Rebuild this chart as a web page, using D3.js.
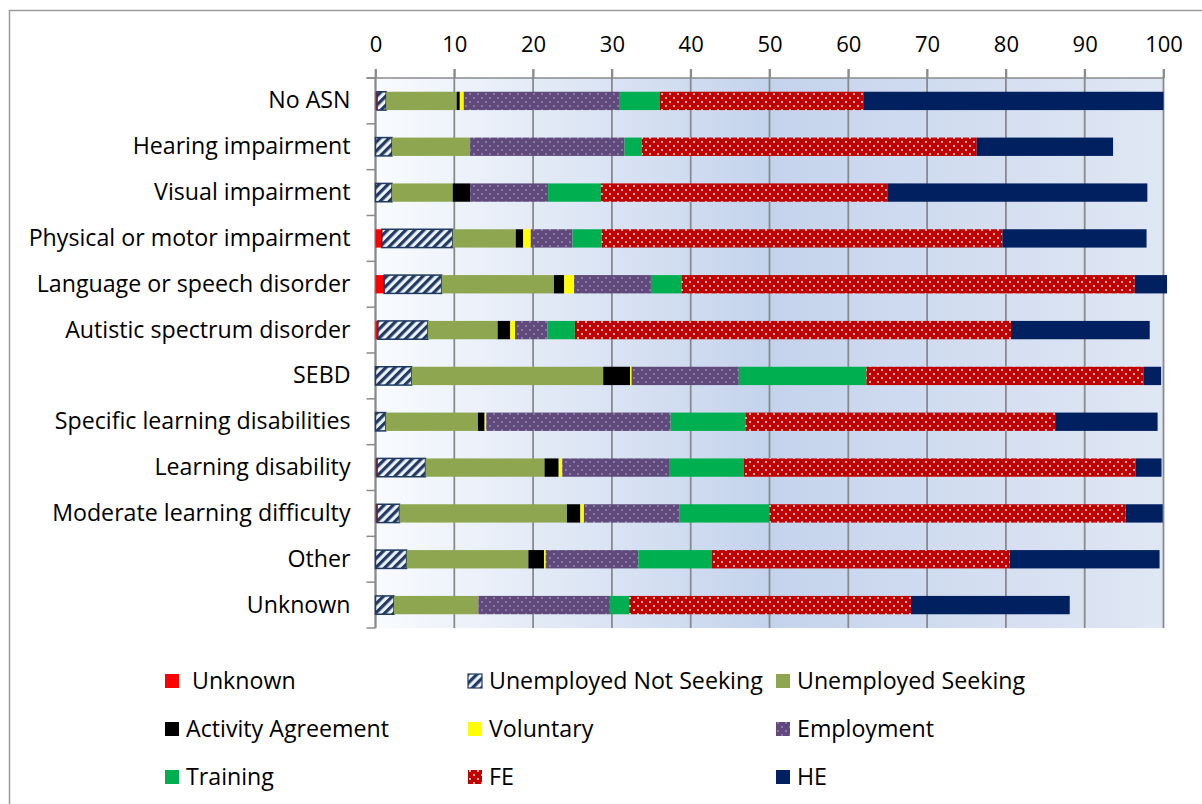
<!DOCTYPE html>
<html><head><meta charset="utf-8">
<script src="https://cdn.jsdelivr.net/npm/d3@7/dist/d3.min.js"></script>
<style>
body{margin:0;background:#fff;}
svg text{font-family:"Open Sans",Lato,sans-serif;fill:#000;}
</style></head>
<body><svg id="chart" width="1202" height="804"></svg>
<script>
const categories = ["No ASN","Hearing impairment","Visual impairment","Physical or motor impairment","Language or speech disorder","Autistic spectrum disorder","SEBD","Specific learning disabilities","Learning disability","Moderate learning difficulty","Other","Unknown"];
const seriesNames = ["Unknown","Unemployed Not Seeking","Unemployed Seeking","Activity Agreement","Voluntary","Employment","Training","FE","HE"];
const unknownVals   = [0.2, 0, 0, 0.8, 1.1, 0.3, 0, 0, 0.2, 0.2, 0, 0];
const unempNotSeek  = [1.15, 2.1, 2.1, 9.0, 7.3, 6.35, 4.6, 1.3, 6.15, 2.85, 3.95, 2.35];
const unempSeek     = [8.95, 9.9, 7.7, 8.0, 14.25, 8.85, 24.3, 11.7, 15.1, 21.25, 15.45, 10.7];
const activityAgr   = [0.4, 0, 2.2, 0.95, 1.3, 1.6, 3.4, 0.85, 1.8, 1.7, 2.0, 0];
const voluntary     = [0.5, 0, 0, 0.95, 1.25, 0.6, 0.2, 0.2, 0.45, 0.45, 0.2, 0];
const employment    = [19.7, 19.6, 9.9, 5.3, 9.75, 4.1, 13.6, 23.4, 13.55, 12.15, 11.75, 16.7];
const training      = [5.2, 2.2, 6.7, 3.7, 3.9, 3.5, 16.2, 9.5, 9.5, 11.4, 9.35, 2.45];
const feVals        = [25.8, 42.5, 36.35, 50.85, 57.5, 55.35, 35.2, 39.3, 49.7, 45.2, 37.8, 35.75];
const heVals        = [38.1, 17.3, 33.0, 18.3, 4.1, 17.6, 2.2, 13.0, 3.3, 4.7, 19.0, 20.15];
const xTicks = [0,10,20,30,40,50,60,70,80,90,100];

const seriesData = [unknownVals, unempNotSeek, unempSeek, activityAgr, voluntary, employment, training, feVals, heVals];
const fills = ["#ff0000","url(#pUNS)","#8ea64f","#000000","#ffff00","url(#pEmp)","#00b050","url(#pFE)","#002060"];
const strokes = ["none","#1f3b63","none","none","none","none","none","none","none"];

const table = categories.map((c,i)=>{const o={cat:c}; seriesNames.forEach((s,j)=>o[s]=seriesData[j][i]); return o;});
const stack = d3.stack().keys(seriesNames)(table);

const svg = d3.select("#chart");
const defs = svg.append("defs");
const g = defs.append("linearGradient").attr("id","bg").attr("x1","0").attr("x2","1").attr("y1","0").attr("y2","0");
g.append("stop").attr("offset","0").attr("stop-color","#f9fbfe");
g.append("stop").attr("offset","0.5").attr("stop-color","#c4d3ec");
g.append("stop").attr("offset","1").attr("stop-color","#e0e7f4");
const p1 = defs.append("pattern").attr("id","pUNS").attr("patternUnits","userSpaceOnUse").attr("width",6.4).attr("height",6.4).attr("patternTransform","rotate(45)");
p1.append("rect").attr("width",6.4).attr("height",6.4).attr("fill","#eef2f8");
p1.append("rect").attr("width",3.2).attr("height",6.4).attr("fill","#1f3b63");
const p2 = defs.append("pattern").attr("id","pEmp").attr("patternUnits","userSpaceOnUse").attr("width",8).attr("height",8);
p2.append("rect").attr("width",8).attr("height",8).attr("fill","#5f4a7b");
p2.append("circle").attr("cx",2).attr("cy",2).attr("r",0.9).attr("fill","#9d8cb6");
p2.append("circle").attr("cx",6).attr("cy",6).attr("r",0.9).attr("fill","#9d8cb6");
const p3 = defs.append("pattern").attr("id","pFE").attr("patternUnits","userSpaceOnUse").attr("width",8).attr("height",8);
p3.append("rect").attr("width",8).attr("height",8).attr("fill","#c00000");
p3.append("circle").attr("cx",2).attr("cy",2).attr("r",1).attr("fill","#ffe6e6");
p3.append("circle").attr("cx",6).attr("cy",6).attr("r",1).attr("fill","#ffe6e6");

svg.append("rect").attr("x",9.5).attr("y",10.5).attr("width",1300).attr("height",900).attr("fill","none").attr("stroke","#9a9a9a").attr("stroke-width",1.5);

const x = d3.scaleLinear().domain([0,100]).range([375.5,1163.5]);
const y = d3.scaleBand().domain(categories).range([78,628]).paddingInner(0.6).paddingOuter(0.3);

svg.append("rect").attr("x",x(0)).attr("y",78).attr("width",x(100)-x(0)).attr("height",550).attr("fill","url(#bg)");

svg.append("g").selectAll("line").data(xTicks).join("line")
  .attr("x1",d=>x(d)).attr("x2",d=>x(d)).attr("y1",69).attr("y2",628)
  .attr("stroke","#8a8a8a").attr("stroke-width",1.8);

const ax = svg.append("g").attr("transform","translate(0,78)")
  .call(d3.axisTop(x).tickValues(xTicks).tickSize(9).tickPadding(17).tickFormat(d3.format("d")));
ax.select(".domain").attr("stroke","#8a8a8a").attr("stroke-width",1.5).attr("d",`M${x(0)-9},0H${x(100)}`);
ax.selectAll(".tick line").attr("stroke","#8a8a8a").attr("stroke-width",1.8);
ax.selectAll(".tick text").style("font-size","22px").attr("fill","#000");

svg.append("line").attr("x1",x(0)).attr("x2",x(0)).attr("y1",78).attr("y2",628).attr("stroke","#8a8a8a").attr("stroke-width",1.8);
const step = y.step();
svg.append("g").selectAll("line").data(d3.range(categories.length+1)).join("line")
  .attr("x1",x(0)-9).attr("x2",x(0)).attr("y1",i=>78+i*step).attr("y2",i=>78+i*step)
  .attr("stroke","#8a8a8a").attr("stroke-width",1.5);
const ay = svg.append("g").attr("transform",`translate(${x(0)},0)`)
  .call(d3.axisLeft(y).tickSize(0).tickPadding(25));
ay.select(".domain").remove();
ay.selectAll(".tick text").style("font-size","23.2px").attr("fill","#000");

svg.append("g").selectAll("g").data(stack).join("g")
  .attr("fill",(d,i)=>fills[i]).attr("stroke",(d,i)=>strokes[i]).attr("stroke-width",1.5)
  .selectAll("rect").data(d=>d).join("rect")
  .attr("x",d=>x(d[0])).attr("width",d=>Math.max(0,x(d[1])-x(d[0])))
  .attr("y",d=>y(d.data.cat)).attr("height",y.bandwidth())
  .attr("display",d=>d[1]-d[0]>0?null:"none");

const colX = [165,468,776], rowY = [681,729,777];
const leg = svg.append("g").selectAll("g").data(seriesNames).join("g")
  .attr("transform",(d,i)=>`translate(${colX[i%3]},${rowY[Math.floor(i/3)]})`);
leg.append("rect").attr("x",0).attr("y",-7).attr("width",14).attr("height",14)
  .attr("fill",(d,i)=>fills[i]).attr("stroke",(d,i)=>strokes[i]).attr("stroke-width",1.2);
leg.append("text").attr("x",(d,i)=>i===0?27:21).attr("y",0).attr("dy","0.35em")
  .style("font-size","23.2px").text(d=>d);
</script></body></html>
